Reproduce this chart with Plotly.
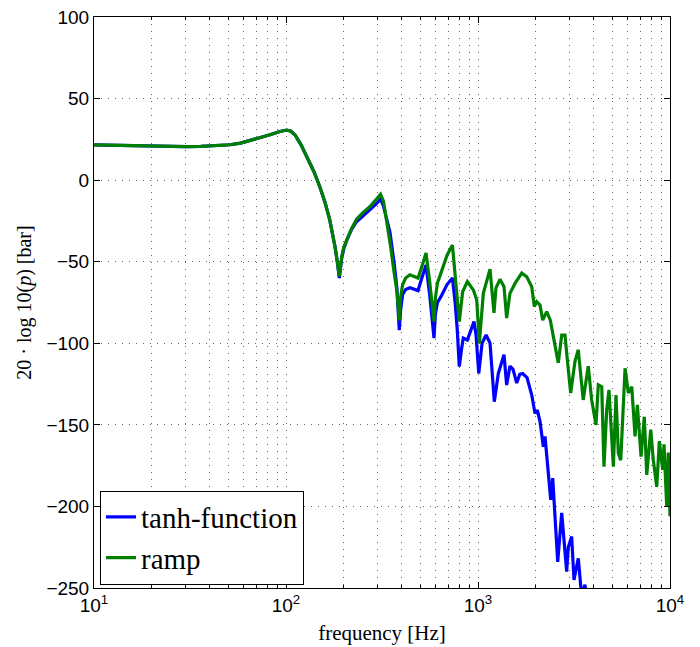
import plotly.graph_objects as go

# ---- data (frequency in Hz, level in dB) ----
freq_tanh = [10, 12, 15.4, 20, 25, 30, 36, 43, 51, 58, 65, 73, 82.5, 93, 101, 106, 111.5, 120, 128, 140,
             150, 160, 169, 175, 180, 185, 189.6, 195, 200, 207, 220, 233, 250, 274, 295, 311, 322, 335,
             348, 365, 378, 389, 395, 405, 420, 442, 465, 487, 510, 536, 560, 590, 600, 615, 641, 690, 736,
             760, 780, 799, 820, 838, 880, 953, 977, 1009, 1050, 1102, 1155, 1216, 1276, 1366, 1410, 1467,
             1522, 1591, 1650, 1709, 1800, 1905, 1982, 2037, 2104, 2189, 2234, 2392, 2450, 2601, 2729, 2806,
             2897, 2952, 3075, 3162, 3328, 3467, 3606, 3741, 4064]
val_tanh = [21.6, 21.4, 21.1, 20.8, 20.7, 20.6, 20.7, 21.1, 21.7, 22.7, 24.2, 26.0, 27.8, 29.8, 30.7, 30.0, 27.7,
            21.5, 14.4, 5.0, -4.0, -14, -24.4, -33, -40.8, -50, -60, -48, -42, -37, -30, -25.5, -22, -18,
            -14.5, -11.7, -16, -24, -32, -50, -66, -92, -80, -70, -67, -66, -67, -67.7, -60, -52, -70, -96.8,
            -82, -75, -71.4, -64, -60, -75, -92, -114.3, -104, -96.8, -98, -86.7, -95, -118.5, -100, -94.9,
            -99.8, -135.8, -118.5, -107, -125.6, -114, -116, -124.4, -119, -118.5, -121, -131.7, -143,
            -141, -148, -163.4, -157, -196, -182.7, -234, -204, -222, -240, -225, -218.5, -245, -231.8,
            -255, -248, -262, -275]

freq_ramp = [10, 12, 15.4, 20, 25, 30, 36, 43, 51, 58, 65, 73, 82.5, 93, 101, 106, 111.5, 120, 128, 140,
             150, 160, 169, 175, 180, 185, 189.6, 195, 200, 207, 220, 233, 250, 274, 295, 311, 322, 334,
             350, 365, 378, 389, 395, 405, 420, 442, 465, 487, 510, 536, 560, 590, 600, 615, 641, 690, 736,
             760, 780, 799, 832, 880, 946, 985, 1016, 1066, 1155, 1211, 1241, 1302, 1366, 1410, 1467, 1559,
             1690, 1795, 1905, 1965, 2022, 2104, 2173, 2280, 2380, 2467, 2619, 2729, 2838, 2897, 3039, 3200,
             3328, 3532, 3752, 3908, 4116, 4233, 4410, 4530, 4680, 4810, 4966, 5070, 5233, 5381, 5540, 5834,
             6068, 6321, 6577, 6761, 7066, 7348, 7568, 7937, 8185, 8530, 8800, 9160, 9305, 9616, 9795, 10000]
val_ramp = [21.6, 21.4, 21.1, 20.8, 20.7, 20.6, 20.7, 21.1, 21.7, 22.7, 24.2, 26.0, 27.8, 29.8, 30.7, 30.0, 27.7,
            21.5, 14.4, 5.0, -4.0, -14, -24.4, -33, -40.8, -50, -59, -47, -41, -36.7, -29.5, -24.0, -20.2,
            -16.2, -12, -8.7, -13, -24.4, -40, -56, -68, -86, -72, -64, -60, -58, -59, -60, -53, -44.7, -62,
            -86.7, -72, -63, -57, -46, -39.8, -58, -75, -86.7, -68.4, -62.2, -67.3, -73.5, -100, -69.4, -54.5,
            -81.4, -66, -60.8, -65.3, -84.5, -69.4, -63.3, -57, -59.2, -65.3, -77.5, -74.5, -76.6, -85.8,
            -80.6, -85.8, -95, -112, -95, -95, -106, -130.5, -111, -104, -134.7, -114, -134.7, -150, -125.5,
            -126.6, -175.6, -141, -128.6, -155, -175.6, -131.7, -167.4, -171.6, -115.3, -130.5, -126.6,
            -157, -137.8, -169.5, -145, -180.7, -153, -171.6, -188, -160, -177.6, -162, -200, -167, -206]

x_tick_vals = [10, 100, 1000, 10000]
x_tick_text = ["10<sup>1</sup>", "10<sup>2</sup>", "10<sup>3</sup>", "10<sup>4</sup>"]
x_minor_vals = [m * d for d in (10, 100, 1000) for m in range(2, 10)]
y_tick_vals = [100, 50, 0, -50, -100, -150, -200, -250]

SERIF = "Liberation Serif"
SANS = "Liberation Sans"

fig = go.Figure()
fig.add_trace(go.Scatter(x=freq_tanh, y=val_tanh, mode="lines", name="tanh-function",
                         line=dict(color="#0000FF", width=3.2)))
fig.add_trace(go.Scatter(x=freq_ramp, y=val_ramp, mode="lines", name="ramp",
                         line=dict(color="#008000", width=3.2)))

grid_dash = "1px,6px"
grid_col = "#666666"
fig.update_layout(
    width=700, height=647,
    margin=dict(l=94, r=30, t=17, b=59),
    paper_bgcolor="white", plot_bgcolor="white",
    font=dict(family=SANS, size=19, color="black"),
    showlegend=True,
    legend=dict(x=0.0104, y=0.006, xanchor="left", yanchor="bottom",
                bgcolor="white", bordercolor="black", borderwidth=1,
                font=dict(family=SERIF, size=29, color="black"),
                tracegroupgap=0, itemwidth=30),
    xaxis=dict(type="log", range=[1, 4], tickmode="array", tickvals=x_tick_vals, ticktext=x_tick_text,
               automargin=False,
               showline=True, linecolor="black", linewidth=1, mirror="allticks",
               ticks="inside", ticklen=6, tickcolor="black",
               showgrid=True, gridcolor=grid_col, griddash=grid_dash, gridwidth=1,
               minor=dict(tickmode="array", tickvals=x_minor_vals, ticks="inside", ticklen=3,
                          tickcolor="black", showgrid=True,
                          gridcolor=grid_col, griddash=grid_dash, gridwidth=1),
               zeroline=False,
               title=dict(text="frequency [Hz]", standoff=10,
                          font=dict(family=SERIF, size=21))),
    yaxis=dict(range=[-250, 100], tickvals=y_tick_vals, automargin=False,
               showline=True, linecolor="black", linewidth=1, mirror="allticks",
               ticks="inside", ticklen=6, tickcolor="black",
               showgrid=True, gridcolor=grid_col, griddash=grid_dash, gridwidth=1,
               zeroline=False,
               title=dict(text="20 · log 10(<i>p</i>) [bar]", standoff=9,
                          font=dict(family=SERIF, size=20))),
)

fig.write_html("out.html")
